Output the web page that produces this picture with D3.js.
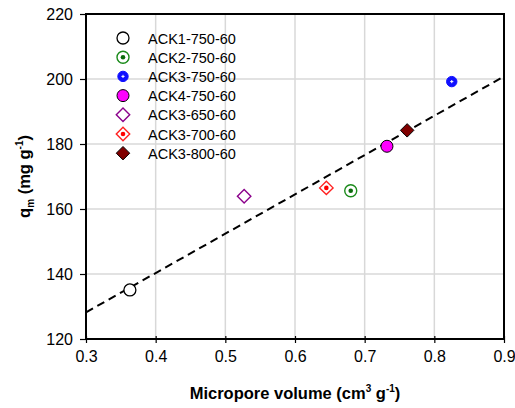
<!DOCTYPE html>
<html>
<head>
<meta charset="utf-8">
<script src="https://cdn.jsdelivr.net/npm/d3@7"></script>
<style>
  body { margin: 0; background: #fff; }
  svg { font-family: Arial, "Liberation Sans", sans-serif; }
</style>
</head>
<body>
<svg id="chart"></svg>
<script>
// sample names, as in the legend order
const samples = ["ACK1-750-60", "ACK2-750-60", "ACK3-750-60", "ACK4-750-60", "ACK3-650-60", "ACK3-700-60", "ACK3-800-60"];
// micropore volume (cm3/g)
const microVol = [0.363, 0.680, 0.825, 0.732, 0.527, 0.645, 0.761];
// q_m (mg/g)
const qm = [135.1, 165.6, 199.2, 179.3, 163.9, 166.5, 184.2];
// linear fit end points
const fitX = [0.3, 0.9];
const fitY = [128.2, 200.8];
const xTicks = [0.3, 0.4, 0.5, 0.6, 0.7, 0.8, 0.9];
const yTicks = [120, 140, 160, 180, 200, 220];

const W = 515, H = 408;
const margin = { top: 14, right: 11, bottom: 69, left: 86 };
const width = W - margin.left - margin.right;
const height = H - margin.top - margin.bottom;

const svg = d3.select("#chart").attr("width", W).attr("height", H);
const g = svg.append("g").attr("transform", `translate(${margin.left},${margin.top})`);

const x = d3.scaleLinear().domain([0.3, 0.9]).range([0, width]);
const y = d3.scaleLinear().domain([120, 220]).range([height, 0]);

// grid
g.append("g").selectAll("line").data(xTicks.slice(1, -1)).enter().append("line")
    .attr("x1", d => x(d)).attr("x2", d => x(d)).attr("y1", 0).attr("y2", height)
    .attr("stroke", "#d8d8d8").attr("stroke-width", 1.5);
g.append("g").selectAll("line").data(yTicks.slice(1, -1)).enter().append("line")
    .attr("y1", d => y(d)).attr("y2", d => y(d)).attr("x1", 0).attr("x2", width)
    .attr("stroke", "#d8d8d8").attr("stroke-width", 1.5);

// axes
const xAxis = g.append("g").attr("transform", `translate(0,${height})`)
    .call(d3.axisBottom(x).tickValues(xTicks).tickFormat(d3.format(".1f")).tickSizeInner(4).tickSizeOuter(0).tickPadding(8));
xAxis.selectAll(".tick line").attr("y1", -3).attr("stroke-width", 1.2);
const yAxis = g.append("g")
    .call(d3.axisLeft(y).tickValues(yTicks).tickSizeInner(6).tickSizeOuter(0).tickPadding(7));
yAxis.selectAll(".tick line").attr("stroke-width", 1.2);
[xAxis, yAxis].forEach(a => {
    a.select(".domain").remove();
    a.selectAll("text").attr("font-size", 16).attr("fill", "#000").attr("font-family", "Arial, 'Liberation Sans', sans-serif");
});

// frame
g.append("rect").attr("width", width).attr("height", height)
    .attr("fill", "none").attr("stroke", "#000").attr("stroke-width", 2);

// fit line
const line = d3.line().x(d => x(d[0])).y(d => y(d[1]));
g.append("path").datum(d3.zip(fitX, fitY))
    .attr("d", line).attr("fill", "none").attr("stroke", "#000")
    .attr("stroke-width", 2).attr("stroke-dasharray", "8,5");

// marker drawing
function drawMarker(sel, i) {
    const diamond = d3.symbol().type(d3.symbolDiamond2).size(115);
    switch (i) {
        case 0:
            sel.append("circle").attr("r", 6).attr("fill", "#fff").attr("stroke", "#000").attr("stroke-width", 1.3);
            break;
        case 1:
            sel.append("circle").attr("r", 6).attr("fill", "#fff").attr("stroke", "#1a8a1a").attr("stroke-width", 1.4);
            sel.append("circle").attr("r", 2.3).attr("fill", "#0b6b0b");
            break;
        case 2:
            sel.append("circle").attr("r", 5.2).attr("fill", "#1010ff").attr("stroke", "#1010ff");
            sel.append("path").attr("d", "M-1.6,0H1.6M0,-1.6V1.6").attr("stroke", "#fff").attr("stroke-width", 1);
            break;
        case 3:
            sel.append("circle").attr("r", 6).attr("fill", "#ff00ff").attr("stroke", "#000").attr("stroke-width", 1);
            break;
        case 4:
            sel.append("path").attr("d", diamond()).attr("fill", "#fff").attr("stroke", "#8b008b").attr("stroke-width", 1.4);
            break;
        case 5:
            sel.append("path").attr("d", diamond()).attr("fill", "#fff").attr("stroke", "#ff2020").attr("stroke-width", 1.4);
            sel.append("circle").attr("r", 2.3).attr("fill", "#ff0000");
            break;
        case 6:
            sel.append("path").attr("d", diamond()).attr("fill", "#800000").attr("stroke", "#000").attr("stroke-width", 1);
            break;
    }
}

// points
samples.forEach((s, i) => {
    const m = g.append("g").attr("transform", `translate(${x(microVol[i])},${y(qm[i])})`);
    drawMarker(m, i);
});

// legend
const legend = svg.append("g").attr("transform", "translate(123,38)");
samples.forEach((s, i) => {
    const row = legend.append("g").attr("transform", `translate(0,${i * 19.2})`);
    drawMarker(row.append("g"), i);
    row.append("text").attr("x", 25).attr("y", 5.5).attr("font-size", 14.5).text(s);
});

// axis titles
const xt = svg.append("text").attr("x", margin.left + width / 2).attr("y", 399)
    .attr("text-anchor", "middle").attr("font-size", 16.5).attr("font-weight", "bold");
xt.append("tspan").text("Micropore volume (cm");
xt.append("tspan").attr("dy", -7).attr("font-size", 10).text("3");
xt.append("tspan").attr("dy", 7).text(" g");
xt.append("tspan").attr("dy", -7).attr("font-size", 10).text("-1");
xt.append("tspan").attr("dy", 7).text(")");

const yt = svg.append("text").attr("transform", `translate(30,${margin.top + height / 2}) rotate(-90)`)
    .attr("text-anchor", "middle").attr("font-size", 16.5).attr("font-weight", "bold");
yt.append("tspan").text("q");
yt.append("tspan").attr("dy", 4).attr("font-size", 10).text("m");
yt.append("tspan").attr("dy", -4).text(" (mg g");
yt.append("tspan").attr("dy", -7).attr("font-size", 10).text("-1");
yt.append("tspan").attr("dy", 7).text(")");
</script>
</body>
</html>
